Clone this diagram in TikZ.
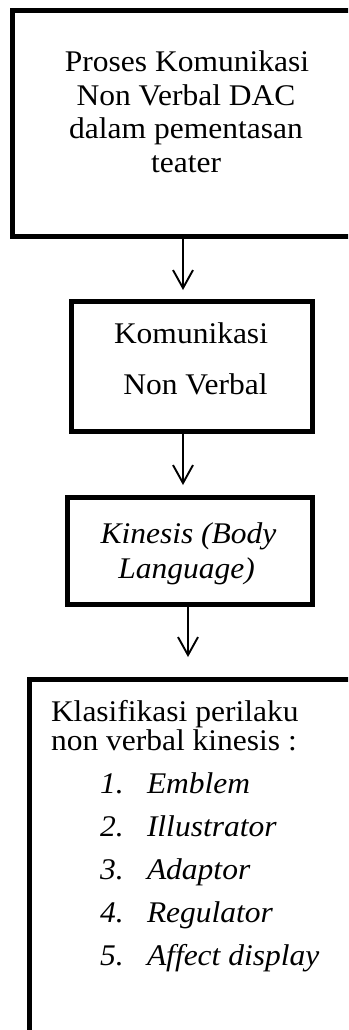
\documentclass[tikz,border=0pt]{standalone}
\usepackage{fontspec}
\setmainfont{Liberation Serif}[FakeStretch=1.05]
\usetikzlibrary{arrows.meta}
\begin{document}
\begin{tikzpicture}[x=1pt,y=-1pt,
  box/.style={draw,line width=5pt,rectangle,inner sep=0pt,outer sep=0pt},
  txt/.style={inner sep=0pt,outer sep=0pt,font=\fontsize{30}{34}\selectfont},
  flow/.style={line width=1.9pt,-{Straight Barb[length=18pt,width=20pt]}}]
\useasboundingbox (0,0) rectangle (348,1030);
\clip (0,0) rectangle (348,1030);
% boxes
\node[box,minimum width=368pt,minimum height=225.2pt] (b1) at (196,123.4) {};
\node[box,minimum width=241.5pt,minimum height=129.3pt] (b2) at (191.75,366.35) {};
\node[box,minimum width=245.5pt,minimum height=106.5pt] (b3) at (189.75,550.75) {};
\node[box,minimum width=351pt,minimum height=381pt] (b4) at (204.5,869.5) {};
% texts
\node[txt,anchor=base] (t1a) at (187,72) {Proses Komunikasi};
\node[txt,anchor=base] (t1b) at (186,106) {Non Verbal DAC};
\node[txt,anchor=base] (t1c) at (186,139) {dalam pementasan};
\node[txt,anchor=base] (t1d) at (186,172) {teater};
\node[txt,anchor=base] (t2a) at (191,343) {Komunikasi};
\node[txt,anchor=base] (t2b) at (195.5,394) {Non Verbal};
\node[txt,anchor=base] (t3a) at (188.5,543) {\itshape Kinesis (Body};
\node[txt,anchor=base] (t3b) at (186.5,578) {\itshape Language)};
\node[txt,anchor=base west] (t4a) at (51,721) {Klasifikasi perilaku};
\node[txt,anchor=base west] (t4b) at (51,750) {non verbal kinesis :};
\node[txt,anchor=base west] (n1) at (100,793) {\itshape 1.};
\node[txt,anchor=base west] (i1) at (147,793) {\itshape Emblem};
\node[txt,anchor=base west] (n2) at (100,836) {\itshape 2.};
\node[txt,anchor=base west] (i2) at (147,836) {\itshape Illustrator};
\node[txt,anchor=base west] (n3) at (100,879) {\itshape 3.};
\node[txt,anchor=base west] (i3) at (147,879) {\itshape Adaptor};
\node[txt,anchor=base west] (n4) at (100,922) {\itshape 4.};
\node[txt,anchor=base west] (i4) at (147,922) {\itshape Regulator};
\node[txt,anchor=base west] (n5) at (100,965) {\itshape 5.};
\node[txt,anchor=base west] (i5) at (147,965) {\itshape Affect display};
% connectors
\coordinate (a1) at (183,0);
\coordinate (a3) at (188,0);
\draw[flow,shorten >=11.7pt] (b1.south -| a1) -- (b2.north -| a1);
\draw[flow,shorten >=12.5pt] (b2.south -| a1) -- (b3.north -| a1);
\draw[flow,shorten >=22pt] (b3.south -| a3) -- (b4.north -| a3);
\end{tikzpicture}
\end{document}
